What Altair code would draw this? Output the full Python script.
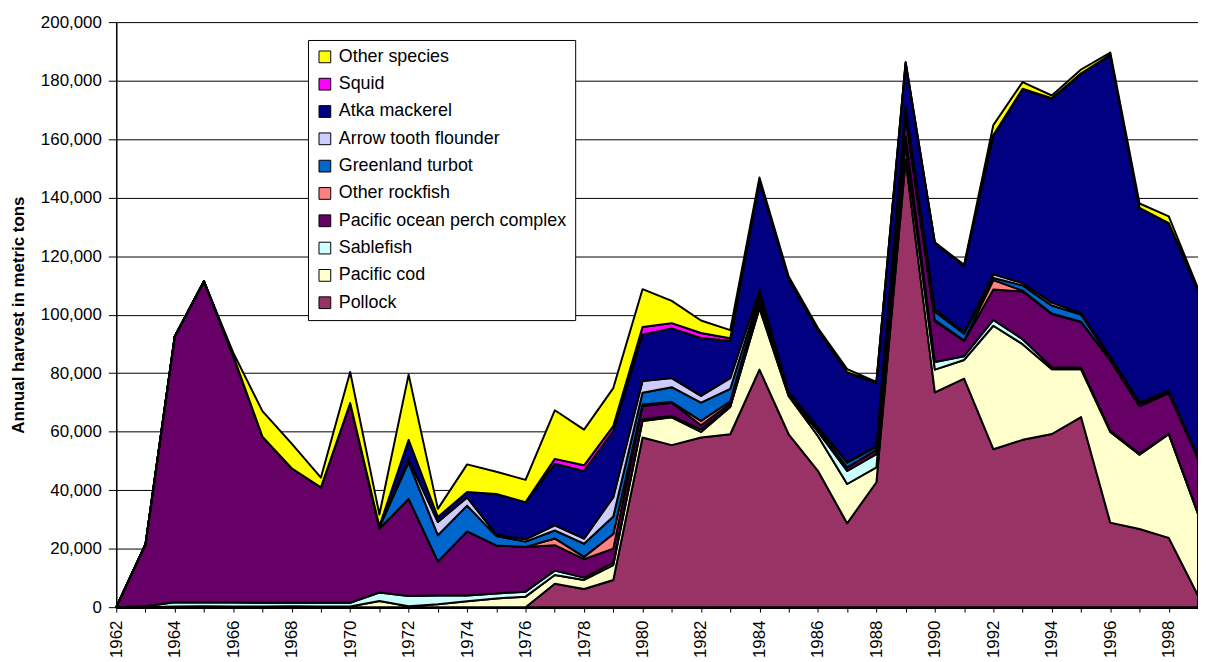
import altair as alt
import pandas as pd

years = list(range(1962, 2000))

species_legend = [
    "Other species", "Squid", "Atka mackerel", "Arrow tooth flounder",
    "Greenland turbot", "Other rockfish", "Pacific ocean perch complex",
    "Sablefish", "Pacific cod", "Pollock",
]
colors = ["#FFFF00", "#FF00FF", "#000080", "#CCCCFF", "#0066CC",
          "#FF8080", "#660066", "#CCFFFF", "#FFFFCC", "#993366"]

# values per year 1962..1999 (metric tons)
pollock = [0, 0, 0, 0, 0, 0, 0, 0, 0, 0,
           0, 0, 0, 0, 0, 8000, 6200, 9300, 58000, 55400,
           58000, 59100, 81200, 59100, 46600, 28700, 42700, 153000, 73400, 78100,
           54000, 57200, 59200, 65000, 28900, 26700, 23700, 4000]
pacific_cod = [0, 0, 200, 300, 200, 200, 300, 200, 200, 2100,
               300, 1000, 2000, 3000, 3600, 3000, 3100, 5100, 5600, 9500,
               1900, 9300, 21000, 13000, 11900, 13400, 5100, 5000, 7800, 6400,
               42200, 32700, 22100, 16300, 31000, 25400, 35400, 27900]
sablefish = [0, 300, 1500, 1300, 1400, 1300, 1200, 1300, 1300, 2900,
             3500, 3000, 2000, 1700, 1700, 1500, 800, 800, 600, 500,
             900, 300, 700, 400, 1500, 4500, 4500, 3000, 2600, 1300,
             2000, 1700, 700, 600, 500, 300, 200, 200]
pop_complex = [0, 21200, 90800, 109800, 84400, 56800, 46000, 39500, 68300, 21800,
               33200, 11600, 21900, 16400, 15300, 8700, 6300, 4800, 4600, 4500,
               1400, 900, 2000, 300, 500, 1200, 1500, 7000, 14000, 5200,
               10400, 16300, 18200, 15600, 24000, 16300, 13900, 18800]
other_rockfish = [0, 0, 0, 0, 0, 0, 0, 0, 0, 0,
                  0, 0, 0, 0, 0, 2300, 800, 5000, 500, 200,
                  1500, 800, 300, 0, 0, 0, 0, 200, 300, 200,
                  3200, 300, 200, 100, 100, 0, 0, 0]
greenland_turbot = [0, 0, 0, 0, 0, 0, 0, 0, 0, 500,
                    12500, 9000, 8800, 3200, 1800, 2700, 4500, 6000, 4000, 5100,
                    6200, 4200, 1500, 500, 800, 1600, 1000, 2000, 2900, 2300,
                    700, 1800, 2700, 2400, 700, 800, 500, 300]
arrowtooth = [0, 0, 0, 0, 0, 0, 0, 0, 0, 100,
              1100, 4500, 2800, 500, 800, 1800, 1700, 6600, 4000, 3100,
              2300, 3700, 1700, 300, 300, 300, 300, 800, 900, 500,
              1300, 800, 1000, 500, 500, 500, 300, 200]
atka_mackerel = [0, 0, 0, 0, 0, 0, 0, 0, 0, 300,
                 6600, 1700, 1900, 13900, 12700, 21000, 23200, 22600, 15900, 17000,
                 19800, 12800, 37200, 38500, 32900, 30500, 21500, 15000, 22400, 22600,
                 47400, 66200, 69700, 81800, 102900, 66400, 57200, 56800]
squid = [0, 0, 0, 0, 0, 0, 0, 0, 0, 0,
         0, 0, 0, 0, 0, 1700, 1900, 1700, 2600, 1800,
         1700, 800, 300, 200, 200, 100, 100, 100, 100, 100,
         200, 200, 200, 200, 200, 100, 100, 100]
other_species = [0, 0, 0, 0, 1000, 8700, 8400, 3300, 10600, 4000,
                 22300, 2800, 9400, 7600, 7600, 16600, 12200, 13000, 12900, 7600,
                 4300, 2800, 1000, 700, 700, 1100, 300, 300, 300, 300,
                 3400, 2300, 900, 1300, 800, 1500, 2300, 700]

series = {
    "Pollock": pollock,
    "Pacific cod": pacific_cod,
    "Sablefish": sablefish,
    "Pacific ocean perch complex": pop_complex,
    "Other rockfish": other_rockfish,
    "Greenland turbot": greenland_turbot,
    "Arrow tooth flounder": arrowtooth,
    "Atka mackerel": atka_mackerel,
    "Squid": squid,
    "Other species": other_species,
}

rows = []
for i, (name, vals) in enumerate(series.items()):
    for y, v in zip(years, vals):
        rows.append({"year": y, "species": name, "value": v, "order": i})
df = pd.DataFrame(rows)

FONT = "Liberation Sans"

chart = alt.Chart(df).mark_area(
    stroke="black", strokeWidth=2, strokeJoin="round"
).encode(
    x=alt.X(
        "year:Q",
        scale=alt.Scale(domain=[1962, 1999], nice=False, zero=False),
        axis=alt.Axis(
            values=years, format="d",
            labelExpr="datum.value % 2 == 0 ? datum.label : ''",
            labelAngle=-90, labelFontSize=17, labelFont=FONT,
            labelColor="black", labelOverlap=False, labelPadding=8,
            tickSize=5, tickColor="black", domainColor="black",
            domainWidth=2.5, grid=False, title=None,
        ),
    ),
    y=alt.Y(
        "value:Q", stack="zero",
        scale=alt.Scale(domain=[0, 200000], nice=False),
        axis=alt.Axis(
            values=list(range(0, 200001, 20000)), format=",d",
            labelFontSize=17, labelFont=FONT, labelColor="black",
            labelPadding=7, tickSize=8, tickColor="black",
            domainColor="black", domainWidth=1.5,
            grid=True, gridColor="black", gridWidth=1, gridOpacity=1,
            title="Annual harvest in metric tons",
            titleFont=FONT, titleFontSize=17, titleFontWeight="bold",
            titleColor="black", titleAngle=-90, titleX=-98, titleY=294.5,
            titleAlign="center", titleBaseline="middle",
        ),
    ),
    color=alt.Color(
        "species:N",
        scale=alt.Scale(domain=species_legend, range=colors),
        legend=alt.Legend(
            title=None, orient="none", legendX=193, legendY=18,
            direction="vertical", fillColor="white", strokeColor="black",
            padding=8, symbolType="square", symbolSize=140,
            symbolStrokeColor="black", symbolStrokeWidth=1,
            symbolOpacity=1, labelFontSize=18, labelFont=FONT,
            labelColor="black", labelOffset=5, rowPadding=9.5,
            labelLimit=400,
        ),
    ),
    order=alt.Order("order:Q", sort="ascending"),
).properties(
    width=1089, height=589,
    autosize=alt.AutoSizeParams(type="none"),
    padding={"left": 109, "top": 12, "right": 0, "bottom": 52},
).configure_view(stroke=None)

chart.save("out.html", embed_options={"renderer": "svg", "actions": False})
